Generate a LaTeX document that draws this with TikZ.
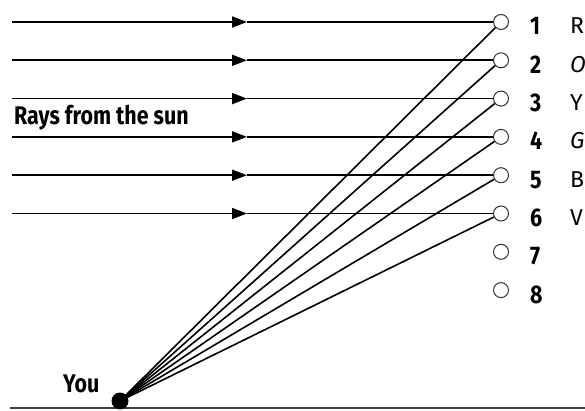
\documentclass[tikz,border=0pt]{standalone}
\usepackage{fontspec}
\setmainfont{Fira Sans}
\newfontfamily\condfont[FakeStretch=0.84]{Fira Sans}
\usetikzlibrary{arrows.meta}

\begin{document}
\begin{tikzpicture}[x=1pt,y=-1pt,>={Triangle[length=15pt,width=11pt]},
  ray/.style={line width=1.8pt},
  tag/.style={font=\condfont\bfseries\fontsize{25.5}{26}\selectfont,inner sep=0pt},
  hue/.style={font=\fontsize{23}{23}\selectfont,inner sep=0pt},
  hole/.style={circle,draw=black!80,line width=1pt,fill=white,minimum size=15pt,inner sep=0pt}]
\useasboundingbox (0,0) rectangle (585,411);
% ground and observer
\coordinate (g0) at (10,408); \coordinate (g1) at (585,408);
\draw[line width=1.8pt,black!75] (g0)--(g1);
\node[circle,fill,minimum size=17pt,inner sep=0pt] (you) at (120,401) {};
\node[tag,anchor=base west] (youlbl) at (63,392) {You};
% holes with numbers
\foreach \i in {1,...,8}{
  \node[hole] (c\i) at (501,{22+38.3*(\i-1)}) {};
  \node[tag,anchor=base west] (n\i) at (530,{35+38.3*(\i-1)}) {\i};
}
\foreach \i/\t in {1/R,2/\textit{O},3/Y,4/\textit{G},5/B,6/V}
  \node[hue,anchor=base west] (k\i) at (570,{34+38.3*(\i-1)}) {\t};
% rays from the sun
\foreach \i in {1,...,6}{
  \coordinate (s\i) at (12,{22+38.3*(\i-1)});
  \coordinate (m\i) at (247,{22+38.3*(\i-1)});
  \draw[ray,->] (s\i)--(m\i);
  \draw[ray] (m\i)--(c\i);
  \draw[line width=1.6pt] (you.center)--(c\i);
}
\node[tag,anchor=base west] (sun) at (14,125) {Rays from the sun};
\end{tikzpicture}
\end{document}
